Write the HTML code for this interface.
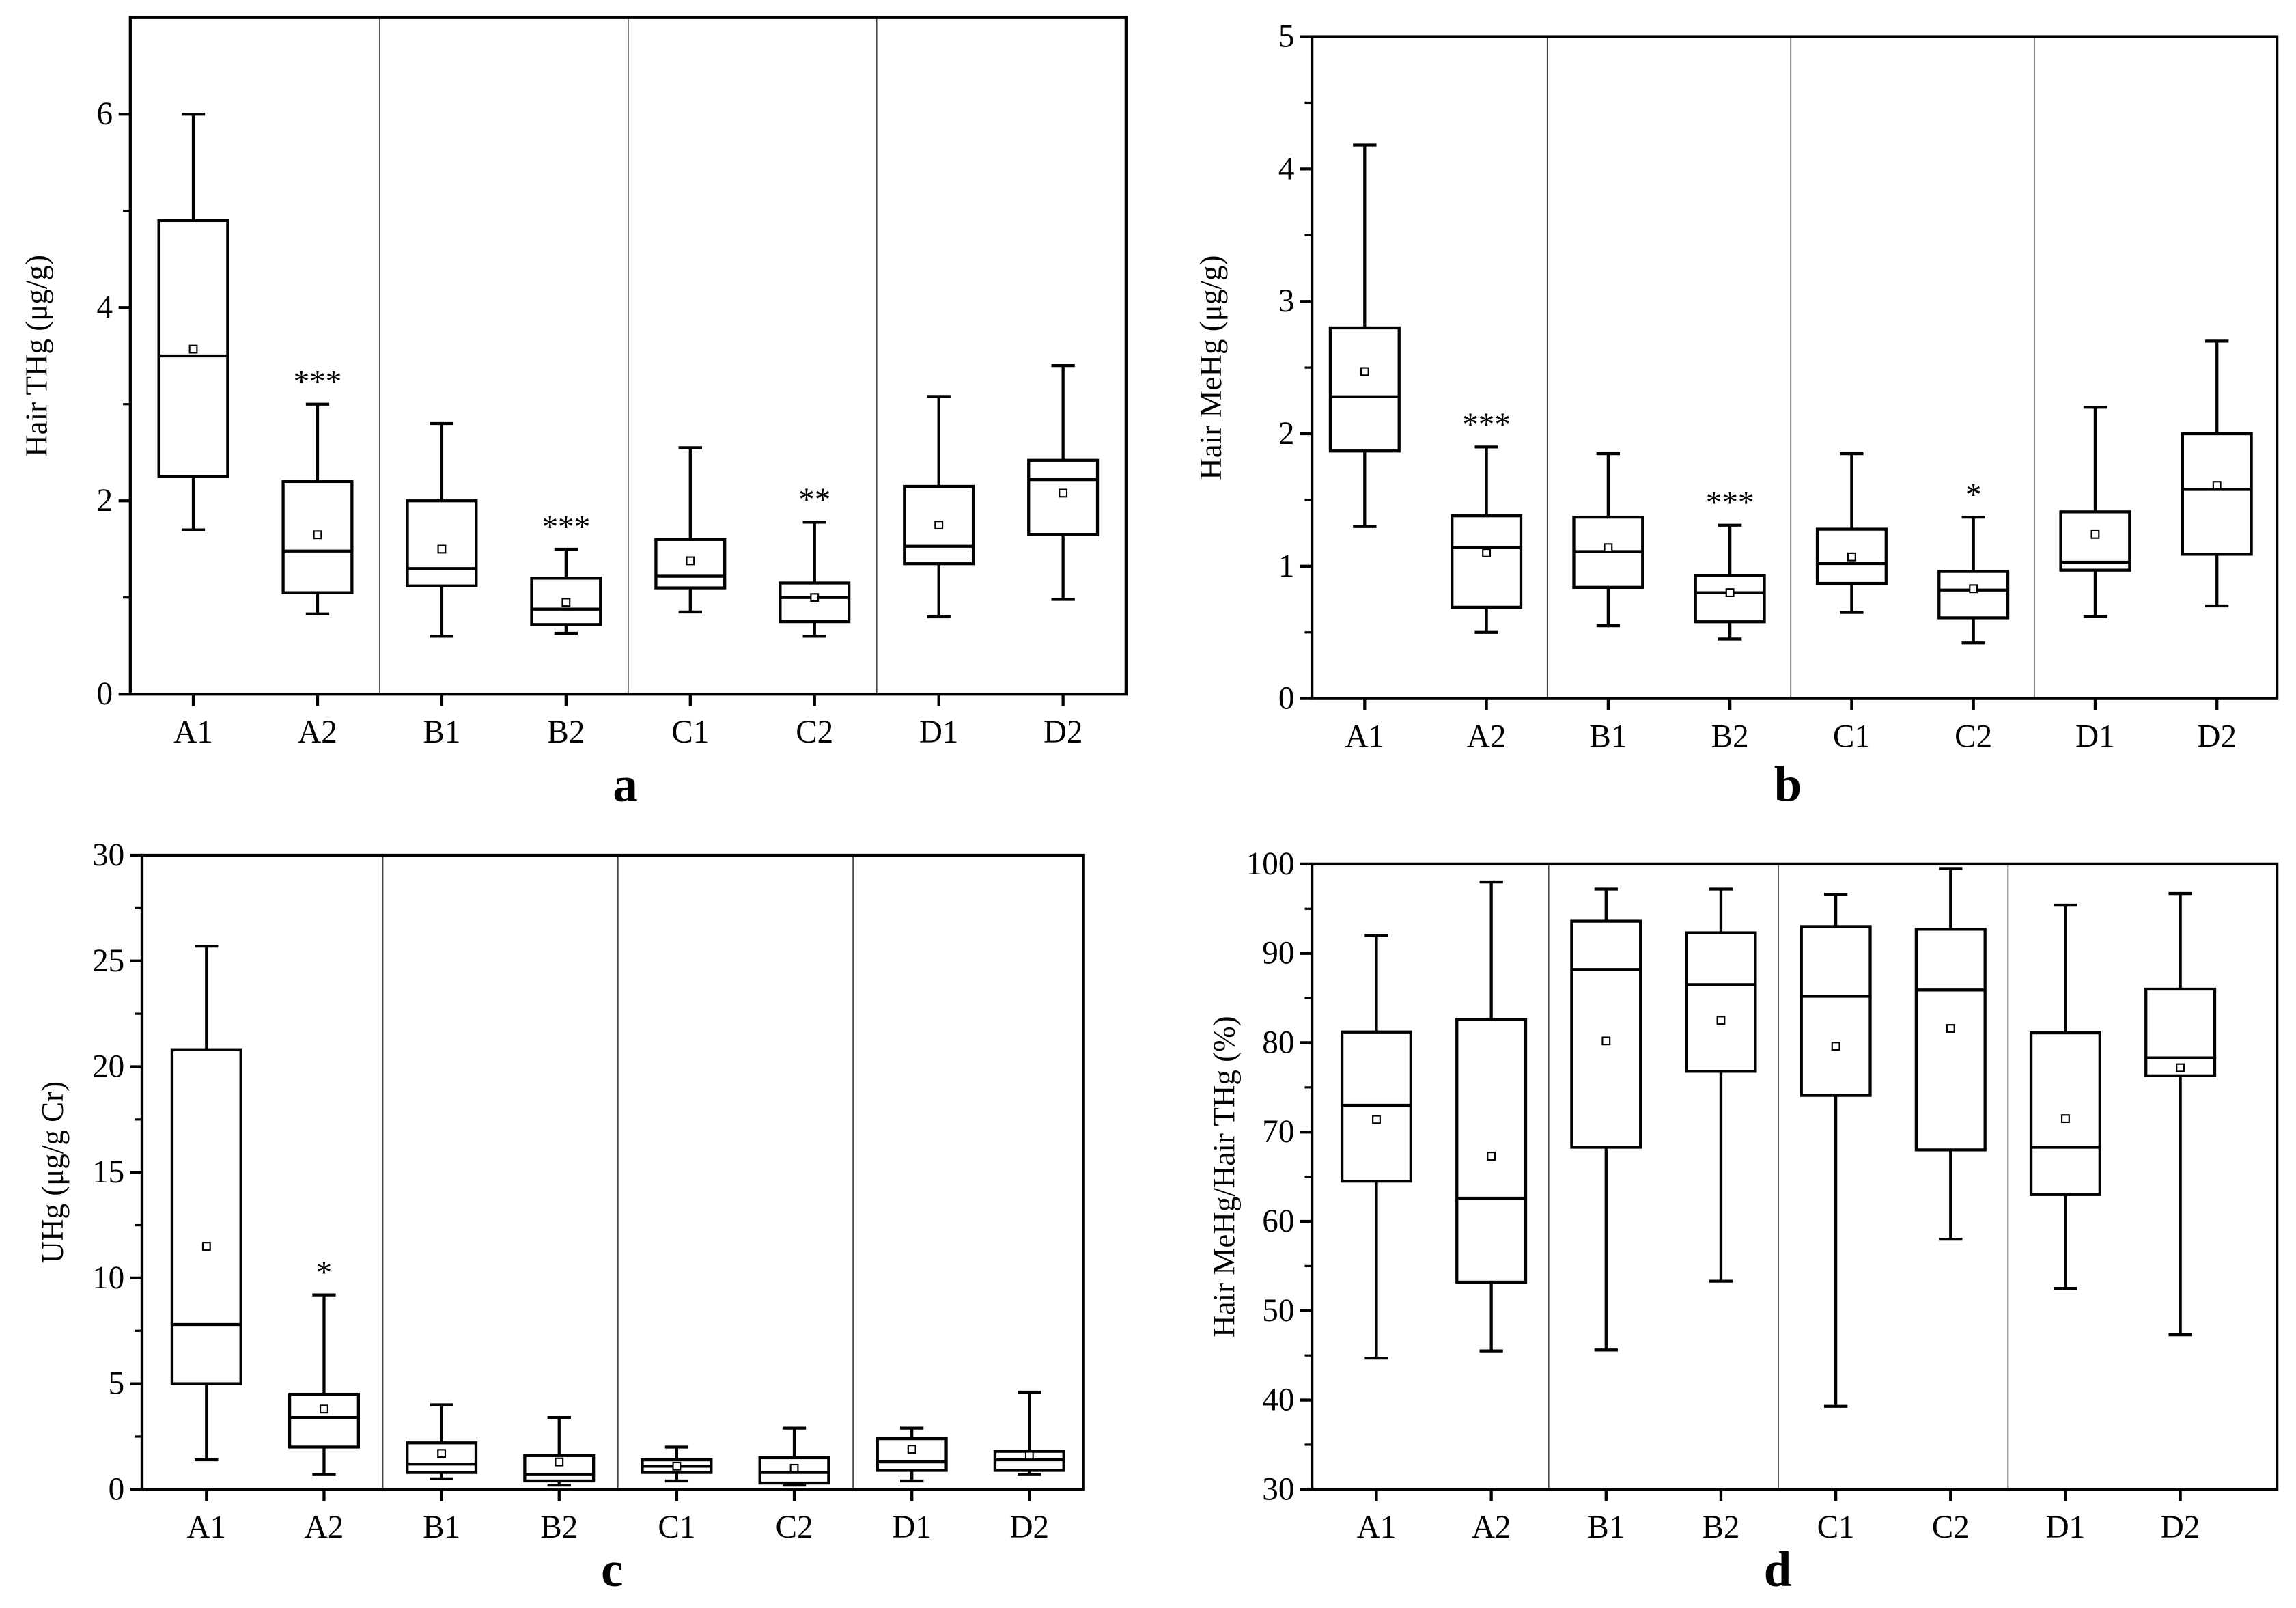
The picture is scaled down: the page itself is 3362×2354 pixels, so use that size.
<!DOCTYPE html>
<html><head><meta charset="utf-8"><style>
html,body{margin:0;padding:0;background:#fff;}
svg{display:block;}
text{font-family:"Liberation Serif","Times New Roman",serif;fill:#000;}
</style></head><body>
<svg id="fig" width="3362" height="2354" viewBox="0 0 1568 1098" preserveAspectRatio="none" xmlns="http://www.w3.org/2000/svg"></svg>
<script>
const categories = ["A1","A2","B1","B2","C1","C2","D1","D2"];
// [low whisker, q1, median, q3, high whisker, mean]
const thgStats = [[1.7,2.25,3.5,4.9,6.0,3.57],[0.83,1.05,1.48,2.2,3.0,1.65],[0.6,1.12,1.3,2.0,2.8,1.5],[0.63,0.72,0.88,1.2,1.5,0.95],[0.85,1.1,1.22,1.6,2.55,1.38],[0.6,0.75,1.0,1.15,1.78,1.0],[0.8,1.35,1.53,2.15,3.08,1.75],[0.98,1.65,2.22,2.42,3.4,2.08]];
const thgStars = ["","***","","***","","**","",""];
const mehgStats = [[1.3,1.87,2.28,2.8,4.18,2.47],[0.5,0.69,1.14,1.38,1.9,1.1],[0.55,0.84,1.11,1.37,1.85,1.14],[0.45,0.58,0.8,0.93,1.31,0.8],[0.65,0.87,1.02,1.28,1.85,1.07],[0.42,0.61,0.82,0.96,1.37,0.83],[0.62,0.97,1.03,1.41,2.2,1.24],[0.7,1.09,1.58,2.0,2.7,1.61]];
const mehgStars = ["","***","","***","","*","",""];
const uhgStats = [[1.4,5.0,7.8,20.8,25.7,11.5],[0.7,2.0,3.4,4.5,9.2,3.8],[0.5,0.8,1.2,2.2,4.0,1.7],[0.2,0.4,0.7,1.6,3.4,1.3],[0.4,0.8,1.1,1.4,2.0,1.1],[0.2,0.3,0.8,1.5,2.9,1.0],[0.4,0.9,1.3,2.4,2.9,1.9],[0.7,0.9,1.4,1.8,4.6,1.6]];
const uhgStars = ["","*","","","","","",""];
const ratioStats = [[44.7,64.5,73,81.2,92,71.4],[45.5,53.2,62.6,82.6,98,67.3],[45.6,68.3,88.2,93.6,97.2,80.2],[53.3,76.8,86.5,92.3,97.2,82.5],[39.3,74.1,85.2,93,96.6,79.6],[58,68,85.9,92.7,99.5,81.6],[52.5,63,68.3,81.1,95.4,71.5],[47.3,76.3,78.3,86,96.7,77.2]];
const ratioStars = ["","","","","","","",""];
const thgTicks = [0,2,4,6];
const mehgTicks = [0,1,2,3,4,5];
const uhgTicks = [0,5,10,15,20,25,30];
const ratioTicks = [30,40,50,60,70,80,90,100];

const svg = document.getElementById('fig');
const NS = 'http://www.w3.org/2000/svg';
function mk(tag, attrs, parent){const e=document.createElementNS(NS,tag);for(const k in attrs)e.setAttribute(k,attrs[k]);(parent||svg).appendChild(e);return e;}

function panel(cfg){
  const g = mk('g',{});
  
  
  const {L,R,T,B,ymin,ymax} = cfg;
  const y = v => B - (v-ymin)/(ymax-ymin)*(B-T);
  const x0 = cfg.x0, x7 = cfg.x7;
  const step = (x7-x0)/7;
  const x = i => x0 + step*i;
  [2,4,6].forEach(k=>{
    const xs = x(k)-step/2;
    const s = mk('line',{x1:xs,x2:xs,y1:T,y2:B,stroke:'#444','stroke-width':0.8},g);
    
    
  });
  const fr = mk('rect',{x:L,y:T,width:R-L,height:B-T,fill:'none',stroke:'#000','stroke-width':2},g);
  
  
  const ticks = cfg.ticks;
  ticks.forEach((t,i)=>{
    mk('line',{x1:L-8,x2:L,y1:y(t),y2:y(t),stroke:'#000','stroke-width':2},g);
    if(i<ticks.length-1){const m=(t+ticks[i+1])/2;mk('line',{x1:L-5,x2:L,y1:y(m),y2:y(m),stroke:'#000','stroke-width':1.5},g);}
    const tx = mk('text',{x:L-12,y:y(t)+7,'text-anchor':'end','font-size':22},g);
    tx.textContent = t;
    
    
  });
  categories.forEach((c,i)=>{
    mk('line',{x1:x(i),x2:x(i),y1:B,y2:B+8,stroke:'#000','stroke-width':2},g);
    const tx = mk('text',{x:x(i),y:B+33,'text-anchor':'middle','font-size':22},g);
    tx.textContent = c;
    
    
    const s = cfg.stats[i];
    const bw = 47, cw = 16;
    const bg = mk('g',{},g);
    
    
    const st = {stroke:'#000','stroke-width':2,fill:'none'};
    mk('line',Object.assign({x1:x(i),x2:x(i),y1:y(s[0]),y2:y(s[1])},st),bg);
    mk('line',Object.assign({x1:x(i),x2:x(i),y1:y(s[3]),y2:y(s[4])},st),bg);
    mk('line',Object.assign({x1:x(i)-cw/2,x2:x(i)+cw/2,y1:y(s[0]),y2:y(s[0])},st),bg);
    mk('line',Object.assign({x1:x(i)-cw/2,x2:x(i)+cw/2,y1:y(s[4]),y2:y(s[4])},st),bg);
    mk('rect',Object.assign({x:x(i)-bw/2,y:y(s[3]),width:bw,height:y(s[1])-y(s[3])},st),bg);
    mk('line',Object.assign({x1:x(i)-bw/2,x2:x(i)+bw/2,y1:y(s[2]),y2:y(s[2])},st),bg);
    mk('rect',{x:x(i)-2.5,y:y(s[5])-2.5,width:5,height:5,fill:'#fff',stroke:'#000','stroke-width':1},bg);
    if(cfg.stars[i]){
      const sx = mk('text',{x:x(i),y:y(s[4])-8,'text-anchor':'middle','font-size':22},g);
      sx.textContent = cfg.stars[i];
      
      
    }
  });
  const cy = (T+B)/2, tx0 = cfg.titleX;
  const ti = mk('text',{x:tx0,y:cy,'text-anchor':'middle','font-size':21,transform:`rotate(-90 ${tx0} ${cy})`},g);
  ti.textContent = cfg.title;
  
  
  const pl = mk('text',{x:cfg.letterX,y:cfg.letterY,'text-anchor':'middle','font-size':34,'font-weight':'bold'},g);
  pl.textContent = cfg.letter;
  
  
}
panel({name:'panel-a-hair-thg',L:89,R:769,T:12,B:474,ymin:0,ymax:7,x0:132,x7:726,ticks:thgTicks,stats:thgStats,stars:thgStars,title:'Hair THg (μg/g)',titleX:32,letter:'a',letterX:427,letterY:547});
panel({name:'panel-b-hair-mehg',L:896,R:1555,T:25,B:477,ymin:0,ymax:5,x0:932,x7:1514,ticks:mehgTicks,stats:mehgStats,stars:mehgStars,title:'Hair MeHg (μg/g)',titleX:834,letter:'b',letterX:1221,letterY:547});
panel({name:'panel-c-uhg',L:97,R:740,T:584,B:1017,ymin:0,ymax:30,x0:141,x7:703,ticks:uhgTicks,stats:uhgStats,stars:uhgStars,title:'UHg (μg/g Cr)',titleX:43,letter:'c',letterX:418,letterY:1083});
panel({name:'panel-d-ratio',L:896,R:1555,T:590,B:1017,ymin:30,ymax:100,x0:940,x7:1489,ticks:ratioTicks,stats:ratioStats,stars:ratioStars,title:'Hair MeHg/Hair THg (%)',titleX:843,letter:'d',letterX:1214,letterY:1083});
</script>
</body></html>
